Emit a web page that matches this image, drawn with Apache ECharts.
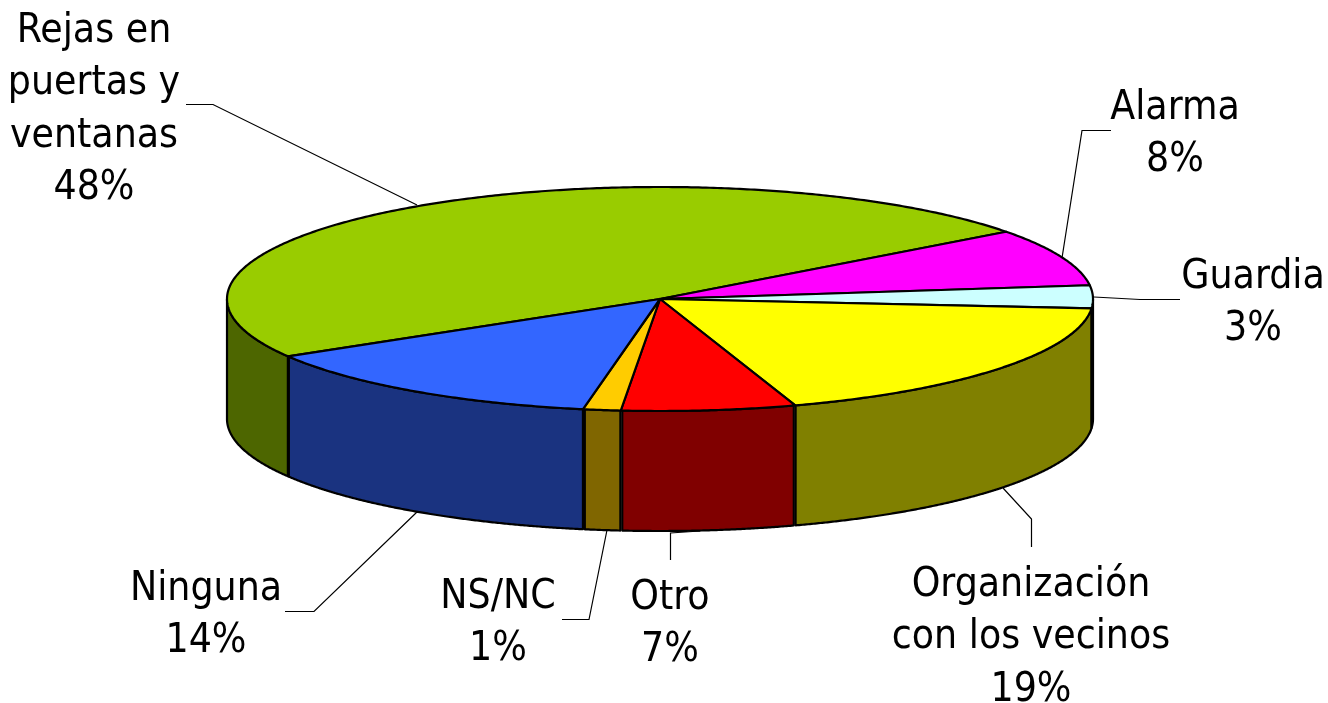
<!DOCTYPE html>
<html><head><meta charset="utf-8">
<style>html,body{margin:0;padding:0;background:#fff}#c{width:1328px;height:703px}</style>
<script src="https://cdn.jsdelivr.net/npm/echarts@6/dist/echarts.min.js"></script>
</head><body><div id="c"></div>
<script>
const categories = ['Rejas en\npuertas y\nventanas','Alarma','Guardia','Organización\ncon los vecinos','Otro','NS/NC','Ninguna'];
const values = [48.3, 8.3, 3.3, 18.6, 6.5, 1.4, 13.6];
const percentLabels = ['48%','8%','3%','19%','7%','1%','14%'];
const topColors = ['#99CC00','#FF00FF','#CCFFFF','#FFFF00','#FF0000','#FFCC00','#3366FF'];
const sideColors = ['#4D6600','#800080','#668080','#808000','#800000','#806600','#1A3380'];

const pie = {cx:660, cy:299, rx:433, ry:112, depth:120, startDeg:36.9 + 173.9};
const labelPos = [[94,5],[1175,82],[1253,251],[1031,559],[670,572],[498,571],[206,563]];
const leaders = [
  [[186,104.5],[213,104.5],[417,205]],
  [[1111,130.5],[1082,130.5],[1062,258]],
  [[1180,299.5],[1140,299.5],[1094,297]],
  [[1031.5,547],[1031.5,519],[1003,488]],
  [[670.5,560],[670.5,533],[700,531]],
  [[562,619.5],[589,619.5],[607,530]],
  [[285,611.5],[314,611.5],[417,512]]
];
const total = values.reduce((a,b)=>a+b,0);
const pt = (deg,dy) => {const t=deg*Math.PI/180; return [pie.cx+pie.rx*Math.cos(t), pie.cy-pie.ry*Math.sin(t)+(dy||0)];};

function renderItem(params, api){
  const i = params.dataIndex;
  let before = 0;
  for(let k=0;k<i;k++) before += values[k];
  const a0 = pie.startDeg - before/total*360;
  const a1 = a0 - api.value(0)/total*360;
  const arc = [];
  const n = Math.max(2, Math.ceil((a0-a1)*2));
  for(let k=0;k<=n;k++) arc.push(a0+(a1-a0)*k/n);
  const children = [];
  const front = [];
  const norm = d => ((d%360)+360)%360;
  for(let k=0;k<=720;k++){
    const d = 180 + k/4;
    if(d>360) break;
    const off = norm(a0-norm(d));
    if(off <= a0-a1) front.push(d);
  }
  if(front.length>1){
    front.sort((p,q)=>q-p);
    const up = front.map(d=>pt(d,0));
    const down = front.slice().reverse().map(d=>pt(d,pie.depth));
    children.push({type:'polygon',shape:{points:up.concat(down)},
      style:{fill:sideColors[i],stroke:'#000',lineWidth:2.2,lineJoin:'round'}});
  }
  const pts = [[pie.cx,pie.cy]].concat(arc.map(d=>pt(d,0)));
  children.push({type:'polygon',shape:{points:pts},
    style:{fill:topColors[i],stroke:'#000',lineWidth:2.2,lineJoin:'round'}});
  return {type:'group',children};
}

const graphics = [];
leaders.forEach(l=>graphics.push({type:'polyline',z:5,shape:{points:l},style:{stroke:'#000',lineWidth:1.2,fill:null}}));
categories.forEach((c,i)=>graphics.push({type:'text',z:6,x:labelPos[i][0],y:labelPos[i][1],
  style:{text:c+'\n'+percentLabels[i],fill:'#000',fontFamily:'"DejaVu Sans Condensed","DejaVu Sans",sans-serif',fontSize:40.5,lineHeight:52.5,textAlign:'center',textVerticalAlign:'top'}}));

const chart = echarts.init(document.getElementById('c'),null,{renderer:'canvas'});
chart.setOption({
  animation:false,
  backgroundColor:'#fff',
  series:[{type:'custom',coordinateSystem:'none',silent:true,renderItem,
    data:values.map((v,i)=>({name:categories[i],value:[v]}))}],
  graphic:{elements:graphics}
});
</script></body></html>
